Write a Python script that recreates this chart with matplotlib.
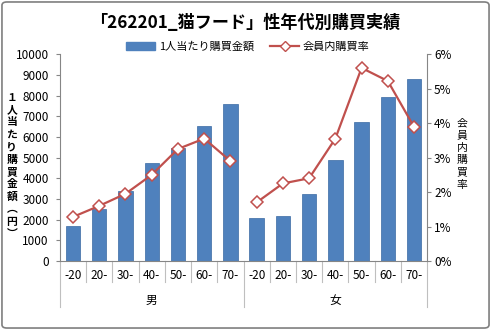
import matplotlib
matplotlib.use("Agg")
import matplotlib.pyplot as plt
from matplotlib.patches import FancyBboxPatch, Patch
from matplotlib.lines import Line2D
from matplotlib.ticker import PercentFormatter

plt.rcParams['font.family'] = ['Noto Sans CJK JP', 'DejaVu Sans']

ages = ['-20', '20-', '30-', '40-', '50-', '60-', '70-']
groups = ['男', '女']
spend_male = [1700, 2500, 3400, 4750, 5450, 6550, 7600]
spend_female = [2100, 2200, 3250, 4900, 6700, 7950, 8800]
rate_male = [1.28, 1.6, 1.95, 2.5, 3.25, 3.55, 2.9]
rate_female = [1.7, 2.25, 2.4, 3.55, 5.6, 5.22, 3.89]

blue = '#4F81BD'
red = '#C0504D'
grey = '#868686'

fig = plt.figure(figsize=(4.91, 3.3), dpi=100)
ax = fig.add_axes([0.122, 0.209, 0.748, 0.627])
ax2 = ax.twinx()

n = len(ages)
spend = spend_male + spend_female
xs = list(range(len(spend)))
ax.bar(xs, spend, width=0.55, color=blue, edgecolor='#3A6AA3', linewidth=0.5, zorder=2)

for i, rates in enumerate([rate_male, rate_female]):
    x = xs[i * n:(i + 1) * n]
    ax2.plot(x, rates, color=red, lw=1.6, marker='D', markersize=6,
             markerfacecolor='white', markeredgecolor=red, markeredgewidth=1.1, zorder=3)

ax.set_xlim(-0.5, len(spend) - 0.5)
ax.set_ylim(0, 10000)
ax.set_yticks(range(0, 10001, 1000))
ax2.set_ylim(0, 6)
ax2.set_yticks(range(0, 7))
ax2.yaxis.set_major_formatter(PercentFormatter(decimals=0))

for a in (ax, ax2):
    a.spines['top'].set_visible(False)
    a.tick_params(axis='y', labelsize=8.5, length=3, color=grey, pad=2)
ax.spines['right'].set_visible(False)
ax2.spines['left'].set_visible(False)
ax.spines['left'].set_color(grey)
ax2.spines['right'].set_color(grey)
ax.spines['bottom'].set_color(grey)
ax2.spines['bottom'].set_visible(False)
ax.tick_params(axis='y', pad=5)

ax.set_xticks(xs)
ax.set_xticklabels(ages * 2, fontsize=8.5)
ax.tick_params(axis='x', length=0, pad=6)

# multi-level category separators
tr = ax.get_xaxis_transform()
for b in range(1, len(spend)):
    if b % n == 0:
        continue
    ax.plot([b - 0.5, b - 0.5], [0, -0.10], transform=tr, color='#BFBFBF', lw=0.8, clip_on=False)
for b in range(0, len(spend) + 1, n):
    ax.plot([b - 0.5, b - 0.5], [0, -0.222], transform=tr, color='#BFBFBF', lw=0.8, clip_on=False)
for g, name in enumerate(groups):
    ax.text(g * n + (n - 1) / 2, -0.19, name, transform=tr, ha='center', va='center', fontsize=8.5)

ax.text(-0.131, 0.46, '\n'.join('１人当たり購買金額︵円︶'), transform=ax.transAxes,
        ha='center', va='center', fontsize=7.8, fontweight='bold', linespacing=1.3)
ax2.text(1.095, 0.517, '\n'.join('会員内購買率'), transform=ax2.transAxes,
         ha='center', va='center', fontsize=7.8, linespacing=1.3)

fig.text(0.5, 0.93, '「262201_猫フード」性年代別購買実績', ha='center', va='center',
         fontsize=12.3, fontweight='bold')

handles = [Patch(color=blue), Line2D([], [], color=red, lw=1.6, marker='D', markersize=5,
                                     markerfacecolor='white', markeredgecolor=red)]
fig.legend(handles, ['1人当たり購買金額', '会員内購買率'], loc='center', bbox_to_anchor=(0.505, 0.858),
           ncol=2, frameon=False, fontsize=8, handlelength=2.6, columnspacing=1.5,
           handletextpad=0.3)

fig.patches.append(FancyBboxPatch((0.004, 0.006), 0.992, 0.988, boxstyle='round,pad=0,rounding_size=0.01',
                                  transform=fig.transFigure, fill=False, edgecolor='#7F7F7F', lw=1.2))

fig.savefig('out.png', dpi=100)
